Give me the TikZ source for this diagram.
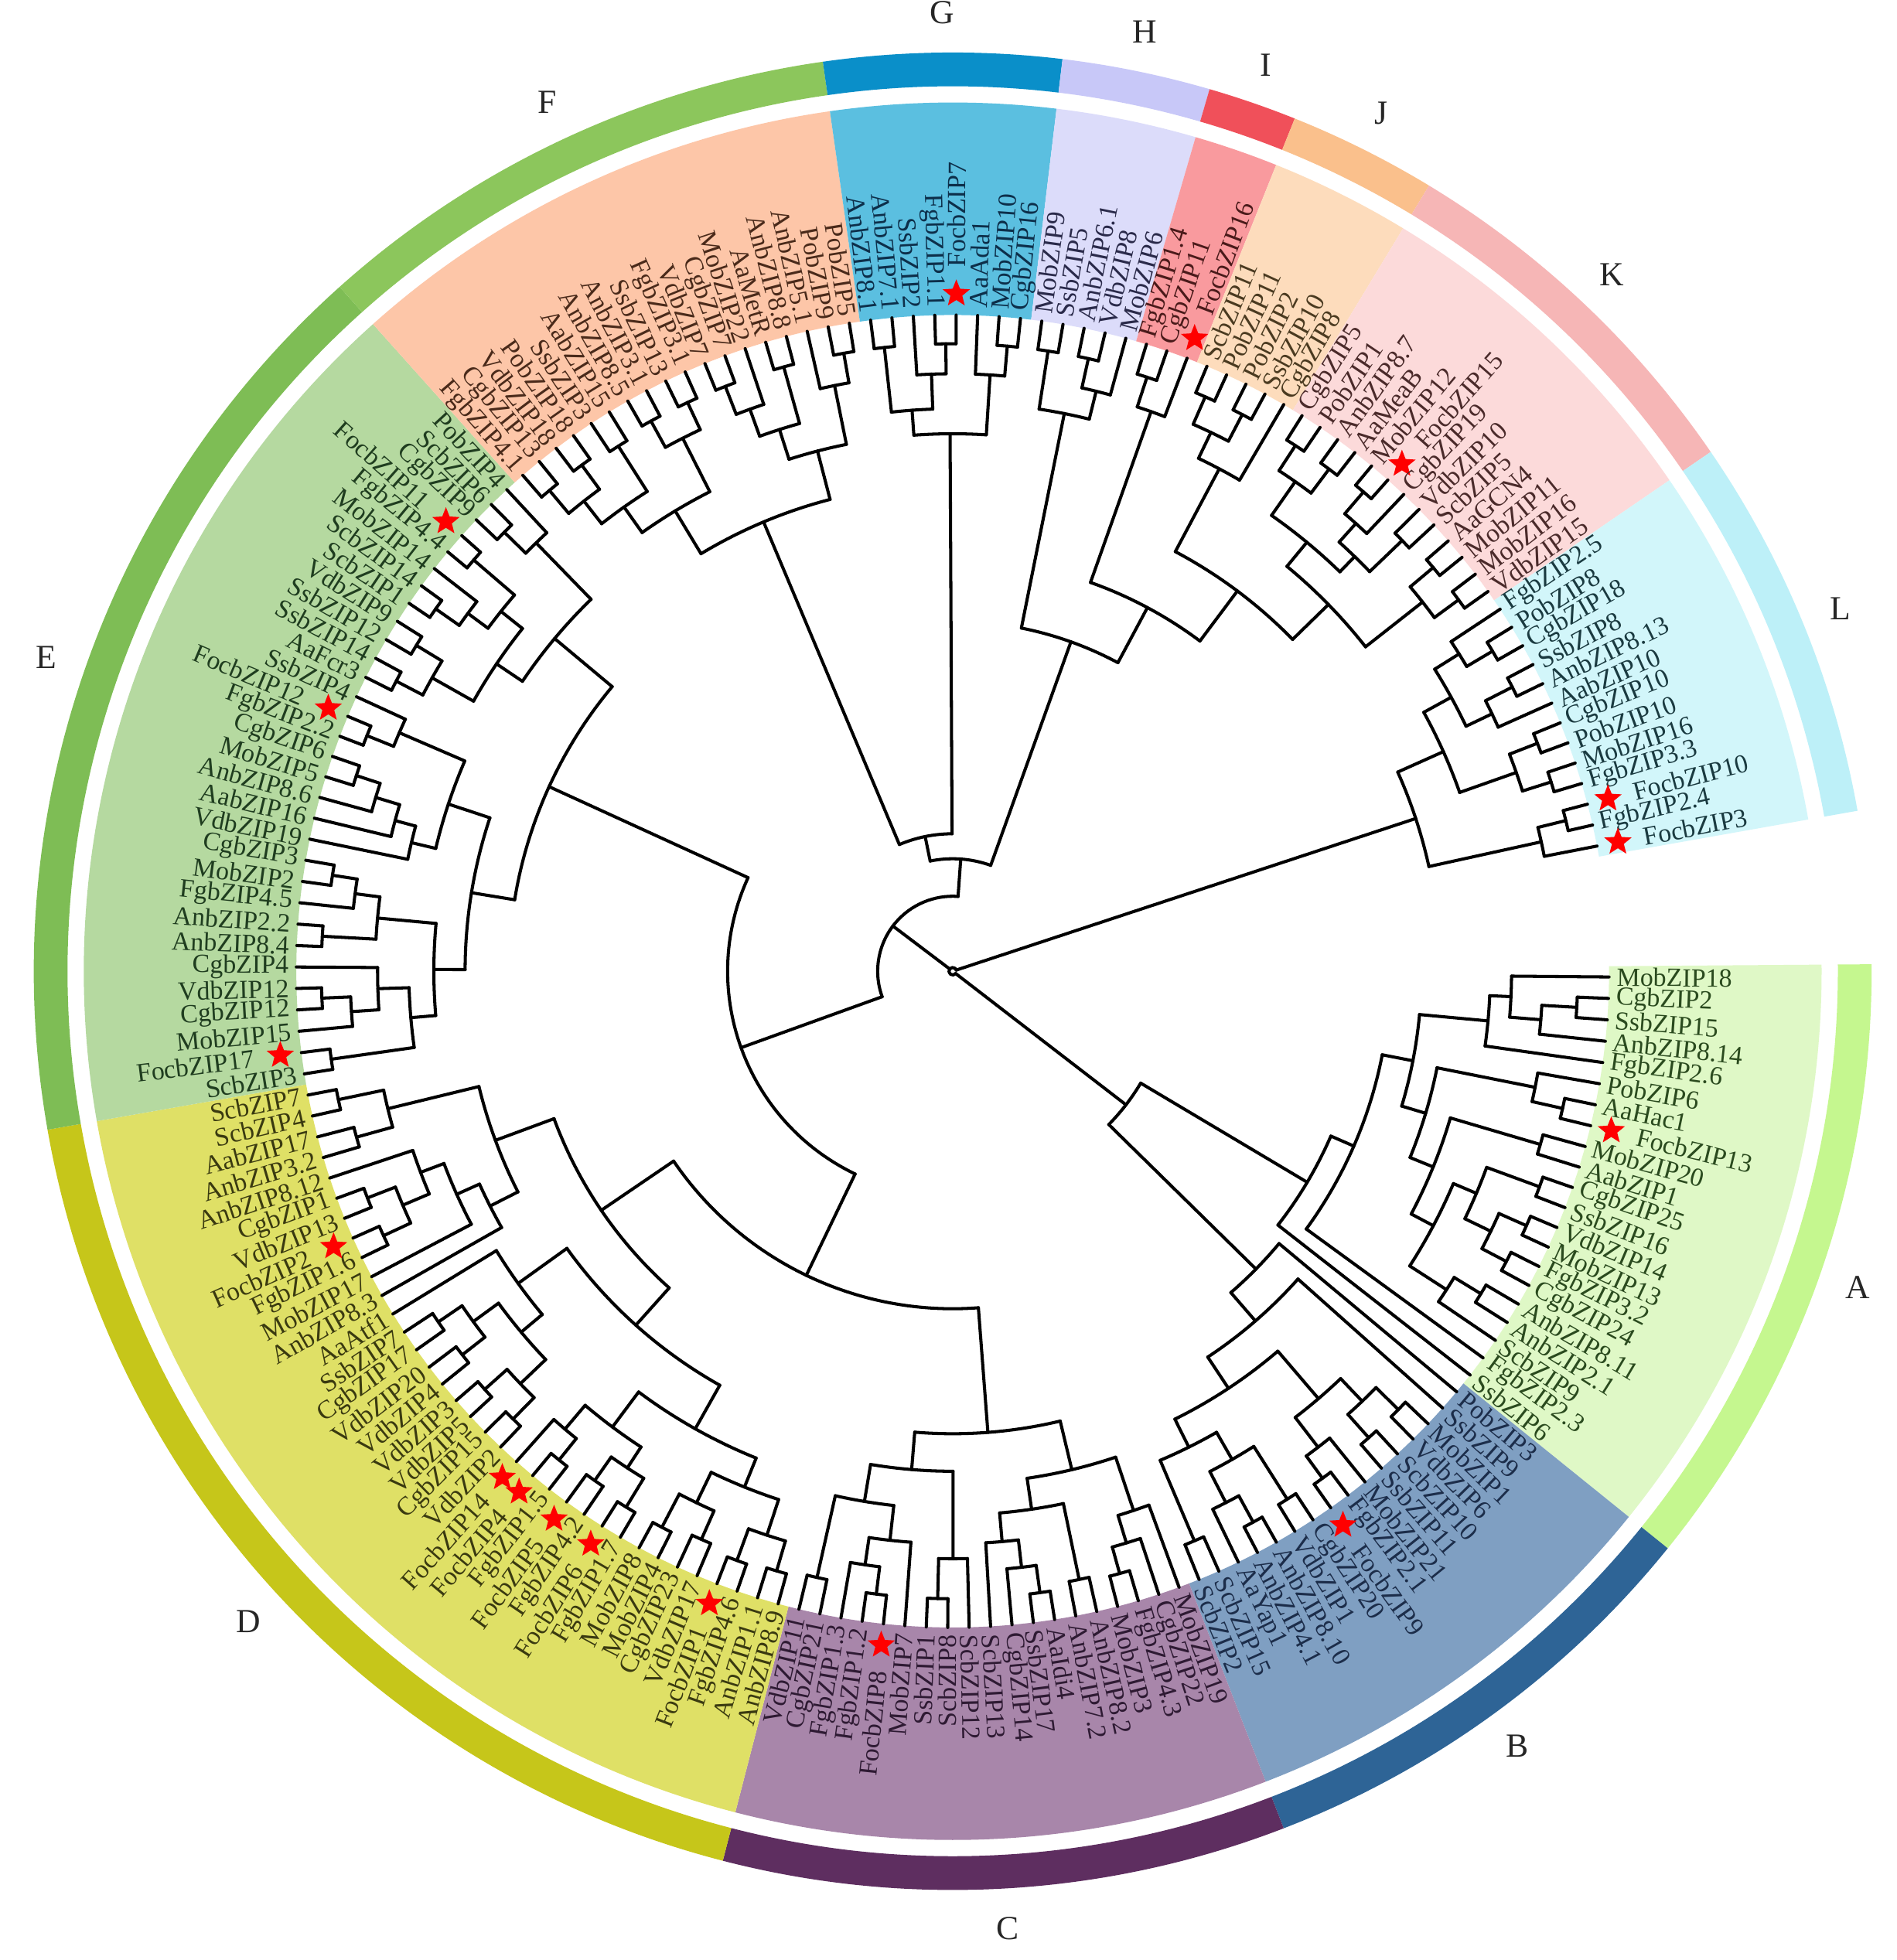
\documentclass[tikz,border=0pt]{standalone}
\usepackage{fontspec}
\setmainfont{Liberation Serif}
\usetikzlibrary{shapes.geometric}
\definecolor{bgA}{HTML}{DFF8C6}\definecolor{rgA}{HTML}{C5F78F}\definecolor{tA}{HTML}{2A4A1E}
\definecolor{bgB}{HTML}{7F9FC2}\definecolor{rgB}{HTML}{2E6496}\definecolor{tB}{HTML}{1C2D4A}
\definecolor{bgC}{HTML}{A886AA}\definecolor{rgC}{HTML}{5E2E60}\definecolor{tC}{HTML}{2E1A33}
\definecolor{bgD}{HTML}{DFE066}\definecolor{rgD}{HTML}{C6C61A}\definecolor{tD}{HTML}{3A3A10}
\definecolor{bgE}{HTML}{B5D9A0}\definecolor{rgE}{HTML}{7EBD55}\definecolor{tE}{HTML}{1F3D1F}
\definecolor{bgF}{HTML}{FDC6A8}\definecolor{rgF}{HTML}{8CC65C}\definecolor{tF}{HTML}{4A2A1A}
\definecolor{bgG}{HTML}{5BBFE0}\definecolor{rgG}{HTML}{0A8FC9}\definecolor{tG}{HTML}{0D2F4A}
\definecolor{bgH}{HTML}{DCDCFA}\definecolor{rgH}{HTML}{C8C8F8}\definecolor{tH}{HTML}{2A2A4A}
\definecolor{bgI}{HTML}{F99A9E}\definecolor{rgI}{HTML}{F0505A}\definecolor{tI}{HTML}{4A1A1A}
\definecolor{bgJ}{HTML}{FDDCBC}\definecolor{rgJ}{HTML}{FAC08C}\definecolor{tJ}{HTML}{4A3A20}
\definecolor{bgK}{HTML}{FCDADA}\definecolor{rgK}{HTML}{F6B6B6}\definecolor{tK}{HTML}{4A2A2A}
\definecolor{bgL}{HTML}{D2F6FA}\definecolor{rgL}{HTML}{BDF0F8}\definecolor{tL}{HTML}{1A3A40}
\def\thO{-0.5}
\def\dA{1.87366}
\def\tipR{525}
\newcommand\setA[2]{\expandafter\xdef\csname tA@#1\endcsname{#2}}
\newcommand\setR[2]{\expandafter\xdef\csname tR@#1\endcsname{#2}}
\newcommand\gA[1]{\csname tA@#1\endcsname}
\newcommand\gR[1]{\csname tR@#1\endcsname}
\def\getfour#1#2#3#4#5\relax{\def\firstfour{#1#2#3#4}}
\def\focb{Focb}
\def\setgrp#1{\ifnum#1<21 \def\tc{tA}\else\ifnum#1<37 \def\tc{tB}\else\ifnum#1<56 \def\tc{tC}\else\ifnum#1<91 \def\tc{tD}\else\ifnum#1<122 \def\tc{tE}\else\ifnum#1<140 \def\tc{tF}\else\ifnum#1<148 \def\tc{tG}\else\ifnum#1<153 \def\tc{tH}\else\ifnum#1<156 \def\tc{tI}\else\ifnum#1<161 \def\tc{tJ}\else\ifnum#1<174 \def\tc{tK}\else\def\tc{tL}\fi\fi\fi\fi\fi\fi\fi\fi\fi\fi\fi}
\newcommand\cl[3]{%
  \gdef\clF{}%
  \foreach \ch in {#2}{%
    \ifx\clF\empty \xdef\clF{\ch}\fi
    \xdef\clL{\ch}%
    \draw[br] (\gA{\ch}:#3pt) -- (\gA{\ch}:\gR{\ch}pt);
  }%
  \draw[br] (\gA{\clF}:#3pt) arc[start angle=\gA{\clF}, end angle=\gA{\clL}, radius=#3pt];
  \pgfmathsetmacro\tmpa{(\gA{\clF}+\gA{\clL})/2}%
  \setA{#1}{\tmpa}\setR{#1}{#3}%
}
\newcommand\grp[6]{%
  \pgfmathsetmacro\gStart{\thO-(#1-0.5)*\dA}%
  \pgfmathsetmacro\gEnd{\thO-(#2+0.5)*\dA}%
  \pgfmathsetmacro\gMid{(\gStart+\gEnd)/2}%
  \fill[#3] (\gStart:525pt) arc[start angle=\gStart,end angle=\gEnd,radius=525pt] -- (\gEnd:695pt) arc[start angle=\gEnd,end angle=\gStart,radius=695pt] -- cycle;
  \fill[#4] (\gStart:708pt) arc[start angle=\gStart,end angle=\gEnd,radius=708pt] -- (\gEnd:735pt) arc[start angle=\gEnd,end angle=\gStart,radius=735pt] -- cycle;
  \node[grpl] (#6) at (\gMid:767pt) {#5};
}
\begin{document}
\begin{tikzpicture}[
  br/.style={line width=2.5pt, line cap=round, line join=round, black},
  lbl/.style={inner sep=0pt, font=\fontsize{21}{22}\selectfont},
  grpl/.style={inner sep=0pt, font=\fontsize{27}{30}\selectfont, text=black!85},
  fstar/.style={star, star points=5, star point ratio=2.3, fill=red, draw=none, minimum size=23pt, inner sep=0pt}]
\fill[white] (-762pt,-791pt) rectangle (755pt,777pt);
\useasboundingbox (-762pt,-791pt) rectangle (755pt,777pt);
\grp{0}{20}{bgA}{rgA}{A}{gA}
\grp{21}{36}{bgB}{rgB}{B}{gB}
\grp{37}{55}{bgC}{rgC}{C}{gC}
\grp{56}{90}{bgD}{rgD}{D}{gD}
\grp{91}{121}{bgE}{rgE}{E}{gE}
\grp{122}{139}{bgF}{rgF}{F}{gF}
\grp{140}{147}{bgG}{rgG}{G}{gG}
\grp{148}{152}{bgH}{rgH}{H}{gH}
\grp{153}{155}{bgI}{rgI}{I}{gI}
\grp{156}{160}{bgJ}{rgJ}{J}{gJ}
\grp{161}{173}{bgK}{rgK}{K}{gK}
\grp{174}{186}{bgL}{rgL}{L}{gL}
\foreach \nm [count=\i from 0] in {MobZIP18,CgbZIP2,SsbZIP15,AnbZIP8.14,FgbZIP2.6,PobZIP6,AaHac1,FocbZIP13,MobZIP20,AabZIP1,CgbZIP25,SsbZIP16,VdbZIP14,MobZIP13,FgbZIP3.2,CgbZIP24,AnbZIP8.11,AnbZIP2.1,ScbZIP9,FgbZIP2.3,SsbZIP6,
PobZIP3,SsbZIP9,MobZIP1,VdbZIP6,ScbZIP10,SsbZIP11,MobZIP21,FgbZIP2.1,FocbZIP9,CgbZIP20,VdbZIP1,AnbZIP8.10,AnbZIP4.1,AaYap1,ScbZIP15,ScbZIP2,
MobZIP19,CgbZIP22,FgbZIP4.3,MobZIP3,AnbZIP8.2,AnbZIP7.2,AaIdi4,SsbZIP17,CgbZIP14,ScbZIP13,ScbZIP12,ScbZIP8,SsbZIP1,MobZIP7,FocbZIP8,FgbZIP1.2,FgbZIP1.3,CgbZIP21,VdbZIP11,
AnbZIP8.9,AnbZIP1.1,FgbZIP4.6,FocbZIP1,VdbZIP17,CgbZIP23,MobZIP4,MobZIP8,FgbZIP1.7,FocbZIP6,FgbZIP4.2,FocbZIP5,FgbZIP1.5,FocbZIP4,FocbZIP14,VdbZIP2,CgbZIP15,VdbZIP5,VdbZIP3,VdbZIP4,VdbZIP20,CgbZIP17,SsbZIP7,AaAtf1,AnbZIP8.3,MobZIP17,FgbZIP1.6,FocbZIP2,VdbZIP13,CgbZIP1,AnbZIP8.12,AnbZIP3.2,AabZIP17,ScbZIP4,ScbZIP7,
ScbZIP3,FocbZIP17,MobZIP15,CgbZIP12,VdbZIP12,CgbZIP4,AnbZIP8.4,AnbZIP2.2,FgbZIP4.5,MobZIP2,CgbZIP3,VdbZIP19,AabZIP16,AnbZIP8.6,MobZIP5,CgbZIP6,FgbZIP2.2,FocbZIP12,SsbZIP4,AaFcr3,SsbZIP14,SsbZIP12,VdbZIP9,ScbZIP1,ScbZIP14,MobZIP14,FgbZIP4.4,FocbZIP11,CgbZIP9,ScbZIP6,PobZIP4,
FgbZIP4.1,CgbZIP13,VdbZIP18,PobZIP18,SsbZIP3,AabZIP15,AnbZIP8.5,AnbZIP3.1,SsbZIP13,FgbZIP3.1,VdbZIP7,CgbZIP7,MobZIP22,AaMetR,AnbZIP8.8,AnbZIP5.1,PobZIP9,PobZIP5,
AnbZIP8.1,AnbZIP7.1,SsbZIP2,FgbZIP1.1,FocbZIP7,AaAda1,MobZIP10,CgbZIP16,
MobZIP9,SsbZIP5,AnbZIP6.1,VdbZIP8,MobZIP6,
FgbZIP1.4,CgbZIP11,FocbZIP16,
ScbZIP11,PobZIP11,PobZIP2,SsbZIP10,CgbZIP8,
CgbZIP5,PobZIP1,AnbZIP8.7,AaMeaB,MobZIP12,FocbZIP15,CgbZIP19,VdbZIP10,ScbZIP5,AaGCN4,MobZIP11,MobZIP16,VdbZIP15,
FgbZIP2.5,PobZIP8,CgbZIP18,SsbZIP8,AnbZIP8.13,AabZIP10,CgbZIP10,PobZIP10,MobZIP16,FgbZIP3.3,FocbZIP10,FgbZIP2.4,FocbZIP3}{%
  \pgfmathsetmacro\angl{\thO-\i*\dA}%
  \setA{\i}{\angl}\setR{\i}{\tipR}%
  \setgrp{\i}%
  \expandafter\getfour\nm\relax
  \ifx\firstfour\focb \def\loff{563}\def\isstar{1}\else\def\loff{531}\def\isstar{0}\fi
  \pgfmathtruncatemacro\rside{cos(\angl)>0}%
  \ifnum\rside=1
    \node[lbl,text=\tc,anchor=west,rotate=\angl] (lab\i) at (\angl:\loff pt) {\nm};
  \else
    \pgfmathsetmacro\angb{\angl+180}%
    \node[lbl,text=\tc,anchor=east,rotate=\angb] (lab\i) at (\angl:\loff pt) {\nm};
  \fi
  \if1\isstar \node[fstar] (st\i) at (\angl:542pt) {};\fi
}
% A
\cl{a1}{1,2}{500}
\cl{a2}{a1,3}{472}
\cl{a3}{0,a2}{447}
\cl{a4}{a3,4}{430}
\cl{a5}{6,7}{500}
\cl{a6}{5,a5}{475}
\cl{a7}{8,9}{490}
\cl{a8}{10,11}{500}
\cl{a9}{12,13}{502}
\cl{a10}{14,15}{500}
\cl{a11}{a9,a10}{478}
\cl{a12}{a8,a11}{455}
\cl{a13}{16,17}{495}
\cl{a14}{a13,18}{470}
\cl{a15}{a12,a14}{435}
\cl{a16}{a7,a15}{415}
\cl{a17}{a6,a16}{395}
\cl{a18}{a4,a17}{375}
\cl{a19}{a18,19}{350}
\cl{a20}{a19,20}{330}
% B
\cl{b1}{23,24}{500}
\cl{b2}{25,26}{500}
\cl{b3}{b1,b2}{475}
\cl{b4}{28,29}{502}
\cl{b5}{27,b4}{480}
\cl{b6}{b3,b5}{450}
\cl{b7}{30,31}{500}
\cl{b8}{32,33}{502}
\cl{b9}{b8,34}{478}
\cl{b10}{b7,b9}{450}
\cl{b11}{35,36}{495}
\cl{b12}{b10,b11}{425}
\cl{b13}{b6,b12}{400}
\cl{b14}{22,b13}{370}
\cl{b15}{21,b14}{340}
\cl{AB}{a20,b15}{175}
% C
\cl{c1}{39,40}{500}
\cl{c2}{38,c1}{478}
\cl{c3}{37,c2}{455}
\cl{c4}{41,42}{497}
\cl{c5}{43,44}{502}
\cl{c6}{c5,45}{480}
\cl{c7}{c6,46}{458}
\cl{c8}{c4,c7}{435}
\cl{c9}{c3,c8}{410}
\cl{c10}{48,49}{502}
\cl{c11}{47,c10}{470}
\cl{c12}{51,52}{502}
\cl{c13}{c12,53}{480}
\cl{c14}{50,c13}{458}
\cl{c15}{54,55}{497}
\cl{c16}{c14,c15}{430}
\cl{c17}{c11,c16}{400}
\cl{c18}{c9,c17}{370}
% D
\cl{d1}{56,57}{500}
\cl{d2}{58,59}{502}
\cl{d3}{d1,d2}{475}
\cl{d4}{60,61}{497}
\cl{d5}{62,63}{502}
\cl{d6}{d4,d5}{472}
\cl{d7}{d3,d6}{445}
\cl{d8}{64,65}{502}
\cl{d9}{66,67}{498}
\cl{d10}{d8,d9}{475}
\cl{d11}{68,69}{502}
\cl{d12}{d11,70}{480}
\cl{d13}{d10,d12}{455}
\cl{d14}{d7,d13}{420}
\cl{d15}{71,72}{502}
\cl{d16}{73,74}{502}
\cl{d17}{d15,d16}{478}
\cl{d18}{75,76}{498}
\cl{d19}{77,78}{498}
\cl{d20}{d18,d19}{475}
\cl{d21}{d17,d20}{450}
\cl{d22}{d21,79}{428}
\cl{d23}{d14,d22}{380}
\cl{d24}{82,83}{502}
\cl{d25}{84,85}{502}
\cl{d26}{d24,d25}{478}
\cl{d27}{d26,86}{455}
\cl{d28}{81,d27}{435}
\cl{d29}{80,d28}{415}
\cl{d30}{87,88}{495}
\cl{d31}{89,90}{502}
\cl{d32}{d30,d31}{465}
\cl{d33}{d29,d32}{390}
\cl{D}{d23,d33}{340}
\cl{CD}{c18,D}{270}
% E
\cl{e1}{91,92}{502}
\cl{e2}{94,95}{505}
\cl{e3}{93,e2}{482}
\cl{e4}{96,e3}{460}
\cl{e5}{e1,e4}{435}
\cl{e6}{97,98}{505}
\cl{e7}{100,101}{502}
\cl{e8}{99,e7}{482}
\cl{e9}{e6,e8}{462}
\cl{e10}{e5,e9}{415}
\cl{e11}{105,106}{502}
\cl{e12}{104,e11}{482}
\cl{e13}{103,e12}{462}
\cl{e14}{102,e13}{445}
\cl{e15}{107,108}{505}
\cl{e16}{e15,109}{482}
\cl{e17}{e14,e16}{425}
\cl{e18}{e10,e17}{390}
\cl{e19}{110,111}{502}
\cl{e20}{112,113}{502}
\cl{e21}{e19,e20}{478}
\cl{e22}{114,115}{505}
\cl{e23}{e22,116}{482}
\cl{e24}{117,118}{505}
\cl{e25}{e23,e24}{462}
\cl{e26}{e21,e25}{440}
\cl{e27}{119,120}{502}
\cl{e28}{e27,121}{478}
\cl{e29}{e26,e28}{415}
\cl{E}{e18,e29}{355}
\cl{CDE}{CD,E}{180}
% F
\cl{f1}{122,123}{502}
\cl{f2}{124,125}{502}
\cl{f3}{f1,f2}{478}
\cl{f4}{126,127}{498}
\cl{f5}{f3,f4}{455}
\cl{f6}{128,129}{502}
\cl{f7}{130,131}{502}
\cl{f8}{f6,f7}{478}
\cl{f9}{f5,f8}{430}
\cl{f10}{132,133}{502}
\cl{f11}{f10,134}{478}
\cl{f12}{135,136}{502}
\cl{f13}{f11,f12}{455}
\cl{f14}{138,139}{502}
\cl{f15}{137,f14}{478}
\cl{f16}{f13,f15}{430}
\cl{F}{f9,f16}{390}
% G
\cl{g1}{140,141}{502}
\cl{g2}{143,144}{502}
\cl{g3}{142,g2}{478}
\cl{g4}{g1,g3}{450}
\cl{g5}{146,147}{502}
\cl{g6}{145,g5}{478}
\cl{G}{g4,g6}{430}
\cl{FG}{F,G}{110}
% H I J K
\cl{h1}{148,149}{502}
\cl{h2}{150,151}{502}
\cl{h3}{h2,152}{478}
\cl{H}{h1,h3}{455}
\cl{i1}{153,154}{500}
\cl{I}{i1,155}{475}
\cl{j1}{156,157}{502}
\cl{j2}{158,159}{502}
\cl{j3}{j1,j2}{478}
\cl{J}{j3,160}{455}
\cl{k1}{161,162}{502}
\cl{k2}{163,164}{502}
\cl{k3}{k1,k2}{478}
\cl{k4}{165,166}{505}
\cl{k5}{k4,167}{482}
\cl{k6}{168,169}{498}
\cl{k7}{k5,k6}{462}
\cl{k8}{k3,k7}{445}
\cl{k9}{170,171}{502}
\cl{k10}{172,173}{502}
\cl{k11}{k9,k10}{478}
\cl{K}{k8,k11}{420}
\cl{JK}{J,K}{380}
\cl{IJK}{I,JK}{330}
\cl{HIJK}{H,IJK}{280}
\cl{FGHIJK}{FG,HIJK}{90}
\cl{LEFT}{CDE,FGHIJK}{60}
% L
\cl{l1}{175,176}{502}
\cl{l2}{174,l1}{478}
\cl{l3}{177,178}{502}
\cl{l4}{l3,179}{478}
\cl{l5}{l2,l4}{455}
\cl{l6}{180,181}{502}
\cl{l7}{182,183}{502}
\cl{l8}{l6,l7}{478}
\cl{l9}{l5,l8}{430}
\cl{l10}{184,185}{505}
\cl{l11}{l10,186}{482}
\cl{L}{l9,l11}{390}
\cl{ROOT}{AB,LEFT,L}{3}
\end{tikzpicture}
\end{document}
